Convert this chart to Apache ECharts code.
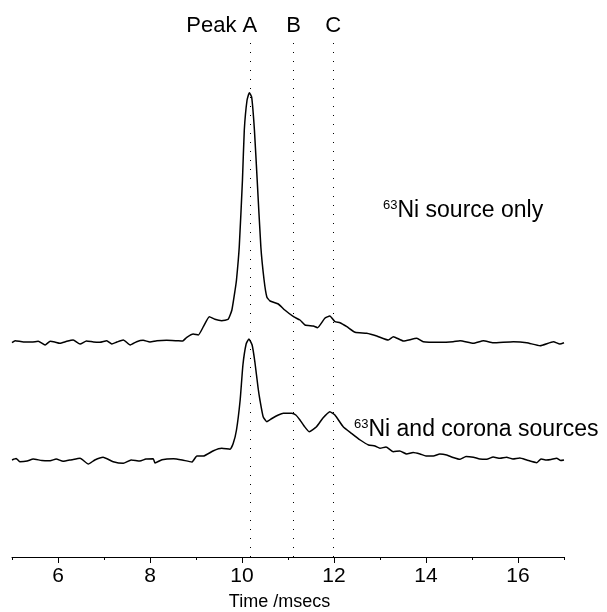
<!DOCTYPE html>
<html>
<head>
<meta charset="utf-8">
<script src="https://cdn.jsdelivr.net/npm/echarts@6/dist/echarts.min.js"></script>
<style>html,body{margin:0;padding:0;background:#fff}#chart{width:607px;height:612px}</style>
</head>
<body>
<div id="chart"></div>
<script>
// ---- data (time in ms, signal in arbitrary units; the two traces are drawn offset) ----
const upperTime = [5.00,5.07,5.25,5.43,5.57,5.72,5.83,5.93,6.04,6.19,6.33,6.48,6.62,6.77,6.91,7.06,7.17,7.28,7.42,7.57,7.71,7.85,8.00,8.15,8.36,8.58,8.71,8.80,8.94,9.05,9.16,9.29,9.41,9.56,9.70,9.78,9.85,9.88,9.94,10.01,10.05,10.11,10.16,10.21,10.27,10.33,10.41,10.48,10.54,10.61,10.79,10.93,11.12,11.26,11.37,11.55,11.64,11.80,11.91,12.02,12.13,12.28,12.46,12.71,12.93,13.18,13.29,13.51,13.80,13.94,14.30,14.59,14.74,15.03,15.25,15.46,15.90,16.19,16.48,16.77,16.91,17.00];
const upperSignal = [214.3,216.3,215,215,215.7,212,215.7,215,213.7,215.7,217,213,216,215,214.7,216.3,213,215,217,212,215.3,216.7,215,216.3,216.7,216.3,216,219.7,223,222,230.3,240.3,237.7,236.3,237.7,247,267,277,310,377,427,457,464.3,460,427,377,310,277,260,256,253,247,240.3,237,232,231,229.3,238.7,241,235.3,234.3,230.3,224.7,223.7,221,217,220.3,216,218.7,215.3,214.7,215.3,216.3,213.7,216.3,214.3,215.3,214.3,211.3,215.3,213,214.3];

const lowerTime = [5.00,5.09,5.17,5.33,5.46,5.65,5.83,5.96,6.11,6.30,6.48,6.66,6.80,6.98,7.20,7.42,7.59,7.78,7.91,8.07,8.11,8.26,8.51,8.70,8.91,9.02,9.16,9.38,9.56,9.74,9.81,9.88,9.96,10.02,10.09,10.15,10.22,10.28,10.35,10.39,10.46,10.54,10.65,10.79,10.90,11.08,11.17,11.26,11.35,11.46,11.62,11.76,11.91,12.02,12.20,12.38,12.57,12.75,12.89,13.00,13.13,13.29,13.43,13.58,13.72,13.87,14.00,14.16,14.30,14.45,14.59,14.74,14.87,15.03,15.17,15.32,15.46,15.61,15.75,15.89,16.04,16.19,16.41,16.50,16.62,16.72,16.84,16.93,17.00];
const lowerSignal = [97,98.5,95.3,96,98,96.5,96.3,98,95.7,97.3,98.7,93,97,99.7,95.3,93.7,97,96,98,98.3,94,97.3,98.3,97,95,101,101,106.3,108.7,107.7,113.7,127,157,192,213,218,212,195,169,157,140.3,135.3,138.5,142,143.7,143.7,142,137,131,125.3,130.3,139,145.3,142,130.3,123.7,117,112,111,108.7,110,105.3,106,103,104.5,103,101,101,103,102,99.5,97.7,100.5,99.7,98,97.7,100,98.7,99.7,98,99,97,94.3,98,97,97.5,98.7,96.5,97];

const peakTimes = [10.19, 11.115, 11.985];
const peakNames = ['Peak A', 'B', 'C'];
const tickValues = [6, 8, 10, 12, 14, 16];
const minorTickValues = [5, 7, 9, 11, 13, 15, 17];
const xTitle = 'Time /msecs';
const upperLabel = ['63', 'Ni source only'];
const lowerLabel = ['63', 'Ni and corona sources'];

const FONT = '"Liberation Sans", Arial, sans-serif';
const zip = (t, v) => t.map((x, i) => [x, v[i]]);

const chart = echarts.init(document.getElementById('chart'), null, {renderer: 'canvas'});
chart.setOption({
  animation: false,
  backgroundColor: '#ffffff',
  grid: {left: 12, right: 43, top: 40, bottom: 55, containLabel: false, outerBoundsMode: 'none'},
  xAxis: [{
    type: 'value', min: 5, max: 17, position: 'bottom',
    axisLine: {show: true, lineStyle: {color: '#000', width: 1}},
    axisTick: {show: true, length: 6, inside: false, customValues: tickValues, lineStyle: {color: '#000'}},
    axisLabel: {show: true, customValues: tickValues, margin: 9, color: '#000', fontSize: 21, fontFamily: FONT},
    splitLine: {show: false},
    name: xTitle, nameLocation: 'middle', nameGap: 36,
    nameTextStyle: {color: '#000', fontSize: 18, fontFamily: FONT, padding: [0, 17, 0, 0]}
  }, {
    type: 'value', min: 5, max: 17, position: 'bottom',
    axisLine: {show: false},
    axisTick: {show: true, length: 3, customValues: minorTickValues, lineStyle: {color: '#000'}},
    axisLabel: {show: false},
    splitLine: {show: false}
  }],
  yAxis: {type: 'value', min: 0, max: 517, show: false},
  series: [{
    type: 'line', xAxisIndex: 0, data: zip(upperTime, upperSignal),
    showSymbol: false, smooth: 0.15,
    lineStyle: {color: '#000', width: 1.5},
    markLine: {
      silent: true, symbol: ['none', 'none'],
      lineStyle: {color: '#000', width: 1, type: [1, 8]},
      label: {show: true, position: 'end', distance: 3, color: '#000', fontSize: 22, fontFamily: FONT},
      data: peakTimes.map((t, i) => ({
        xAxis: t,
        label: {formatter: peakNames[i], padding: i === 0 ? [0, 58, 0, 0] : 0}
      }))
    }
  }, {
    type: 'line', xAxisIndex: 0, data: zip(lowerTime, lowerSignal),
    showSymbol: false, smooth: 0.15,
    lineStyle: {color: '#000', width: 1.5}
  }],
  graphic: [{
    type: 'text', left: 383, top: 199,
    style: {
      text: '{s|' + upperLabel[0] + '}{m|' + upperLabel[1] + '}',
      fill: '#000',
      rich: {
        s: {fontSize: 13, fontFamily: FONT, verticalAlign: 'top', fill: '#000'},
        m: {fontSize: 23, fontFamily: FONT, fill: '#000'}
      }
    }
  }, {
    type: 'text', left: 354, top: 418,
    style: {
      text: '{s|' + lowerLabel[0] + '}{m|' + lowerLabel[1] + '}',
      fill: '#000',
      rich: {
        s: {fontSize: 13, fontFamily: FONT, verticalAlign: 'top', fill: '#000'},
        m: {fontSize: 23, fontFamily: FONT, fill: '#000'}
      }
    }
  }]
});
</script>
</body>
</html>
